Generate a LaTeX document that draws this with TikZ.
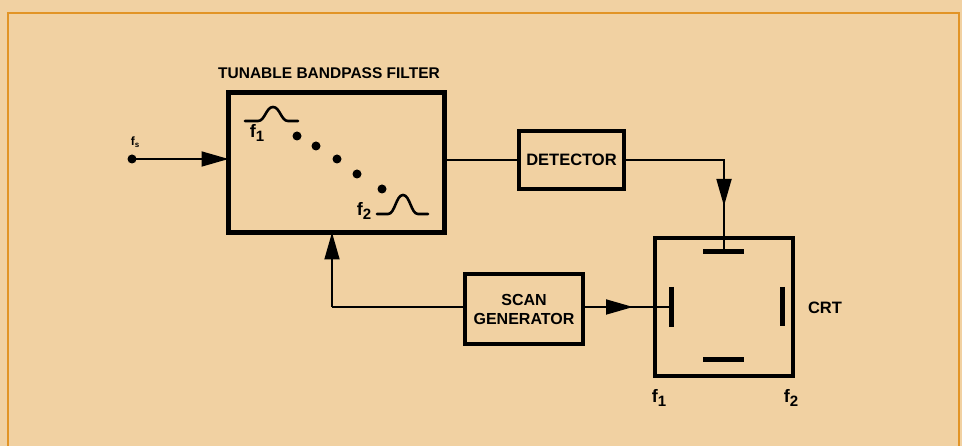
\documentclass[tikz,border=0pt]{standalone}
\usepackage{fontspec}
\setmainfont{Liberation Sans}
\usetikzlibrary{arrows.meta}
\definecolor{paper}{RGB}{241,209,162}
\definecolor{frameor}{RGB}{226,148,38}
\newcommand{\fsub}[2]{\bfseries f\raisebox{-4pt}{\fontsize{#2}{#2}\selectfont #1}}
\begin{document}
\begin{tikzpicture}[x=1pt,y=-1pt,
  blk/.style={draw=black, line width=4.5pt, inner sep=0pt, outer sep=0pt, align=center,
    font=\bfseries\fontsize{16.5}{17}\selectfont},
  conn/.style={draw=black, line width=1.8pt},
  tip/.style={-{Triangle[length=27pt,width=15pt]}},
  plate/.style={draw=black, line width=5pt},
  bump/.style={draw=black, line width=2.6pt, line cap=round},
  dotn/.style={circle, fill=black, inner sep=0pt, minimum size=9pt},
  lbl/.style={inner sep=0pt, font=\bfseries\fontsize{16.5}{17}\selectfont},
  flbl/.style={inner sep=0pt, font=\fontsize{18}{18}\selectfont}]
\fill[paper] (0,0) rectangle (962,446);
\useasboundingbox (0,0) rectangle (962,446);
\draw[frameor, line width=2.5pt] (8,447) -- (8,13) -- (959,13) -- (959,447);

% blocks
\node[blk, minimum width=216pt, minimum height=140pt] (filt) at (336.5,162.5) {};
\node[lbl, font=\bfseries\fontsize{15.5}{15}\selectfont, anchor=base west] (ftitle) at (218,78.5) {TUNABLE BANDPASS FILTER};
\node[blk, minimum width=105pt, minimum height=58pt] (det) at (571.5,160) {DETECTOR};
\node[blk, minimum width=118pt, minimum height=70pt, font=\bfseries\fontsize{16}{19}\selectfont] (scan) at (524,309) {SCAN\\GENERATOR};
\node[blk, minimum width=138pt, minimum height=138pt] (crt) at (724,307) {};
\node[lbl, font=\bfseries\fontsize{16.5}{17}\selectfont] (crtl) at (825,308) {CRT};

% filter contents
\draw[bump] (245,121) -- (258,121) .. controls (265,121) and (266,107) .. (273,107)
  .. controls (280,107) and (281,121) .. (288,121) -- (298,121);
\draw[bump] (377,214) -- (388,214) .. controls (395,214) and (396,195) .. (403,195)
  .. controls (410,195) and (411,214) .. (418,214) -- (428,214);
\node[flbl] (f1a) at (257,133) {\fsub{1}{15}};
\node[flbl] (f2a) at (364,211) {\fsub{2}{15}};
\node[dotn] (d1) at (297,136) {};
\node[dotn] (d2) at (316,146) {};
\node[dotn] (d3) at (337,159) {};
\node[dotn] (d4) at (357,174) {};
\node[dotn] (d5) at (382,189) {};

% input
\node[dotn] (fs) at (132,159) {};
\node[inner sep=0pt, font=\bfseries\fontsize{12}{12}\selectfont] (fsl) at (135,142) {f\raisebox{-2pt}{\fontsize{8}{8}\selectfont s}};
\draw[conn, tip] (fs.center) -- (filt.west |- fs);

% filter -> detector
\draw[conn] (filt.east |- det.west) -- (det.west);

% detector -> CRT top plate
\coordinate (dturn) at (724,160);
\coordinate (dtip) at (724,206);
\coordinate (ptop) at (724,252);
\draw[conn] (det.east) -- (dturn) -- (ptop);
\draw[conn, tip] (dturn) -- (dtip);

% plates
\draw[plate] (703,252) -- (744,252);
\draw[plate] (703,360) -- (744,360);
\draw[plate] (671,287) -- (671,327);
\draw[plate] (782,287) -- (782,326);

% scan -> CRT left plate
\coordinate (pleft) at (671,307);
\coordinate (stip) at (633,307);
\draw[conn] (scan.east |- pleft) -- (pleft);
\draw[conn, tip] (scan.east |- pleft) -- (stip);

% scan -> filter
\coordinate (sturn) at (332,307);
\draw[conn] (scan.west |- sturn) -- (sturn);
\draw[conn, tip] (sturn) -- (sturn |- filt.south);

% CRT frequency labels
\node[flbl] (f1b) at (659,398) {\fsub{1}{15}};
\node[flbl] (f2b) at (791,398) {\fsub{2}{15}};
\end{tikzpicture}
\end{document}
